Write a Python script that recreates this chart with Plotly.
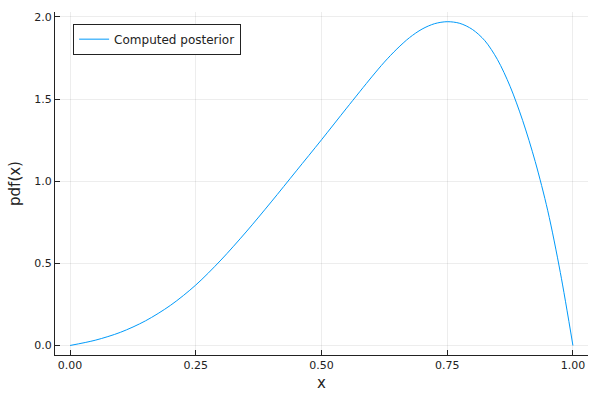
import plotly.graph_objects as go

# values
x_vals = [0.0, 0.05, 0.10, 0.15, 0.20, 0.25, 0.30, 0.35, 0.40, 0.45, 0.50,
          0.55, 0.60, 0.625, 0.65, 0.675, 0.70, 0.725, 0.75, 0.775, 0.80, 0.825,
          0.85, 0.875, 0.90, 0.925, 0.95, 0.975, 1.0]
pdf_vals = [0.0, 0.032, 0.080, 0.150, 0.245, 0.368, 0.52, 0.691, 0.874, 1.063, 1.252,
            1.445, 1.635, 1.725, 1.805, 1.874, 1.926, 1.959, 1.971, 1.961, 1.924, 1.855,
            1.74, 1.578, 1.37, 1.12, 0.82, 0.444, 0.0]
x_ticks = [0.0, 0.25, 0.5, 0.75, 1.0]
x_tick_labels = ["0.00", "0.25", "0.50", "0.75", "1.00"]
y_ticks = [0.0, 0.5, 1.0, 1.5, 2.0]
y_tick_labels = ["0.0", "0.5", "1.0", "1.5", "2.0"]
series_name = "Computed posterior"

FONT = "DejaVu Sans"

fig = go.Figure()
fig.add_trace(go.Scatter(
    x=x_vals, y=pdf_vals, mode="lines", name=series_name,
    line=dict(color="#009AFA", width=1, shape="spline", smoothing=0.9),
))

axis_common = dict(
    showline=True, linecolor="#222222", linewidth=1,
    ticks="inside", ticklen=5, tickcolor="#222222", tickwidth=1,
    showgrid=True, gridcolor="rgba(0,0,0,0.07)", gridwidth=0.7,
    zeroline=False, mirror=False, automargin=False,
    tickfont=dict(family=FONT, size=11, color="#222222"),
)

fig.update_layout(
    width=600, height=400,
    paper_bgcolor="white", plot_bgcolor="white",
    margin=dict(l=55, r=12, t=12, b=45),
    font=dict(family=FONT, color="#222222"),
    showlegend=True,
    legend=dict(
        x=0.034, y=0.966, xanchor="left", yanchor="top",
        bordercolor="#222222", borderwidth=1, bgcolor="white",
        font=dict(family=FONT, size=12, color="#222222"),
        itemwidth=30,
    ),
    xaxis=dict(
        range=[-0.03, 1.03], tickvals=x_ticks, ticktext=x_tick_labels,
        title=dict(text="x", font=dict(family=FONT, size=15), standoff=6),
        **axis_common,
    ),
    yaxis=dict(
        range=[-0.058, 2.03], tickvals=y_ticks, ticktext=y_tick_labels,
        title=dict(text="pdf(x)", font=dict(family=FONT, size=15), standoff=10),
        **axis_common,
    ),
)

fig.write_html(
    "out.html",
    config={"displayModeBar": False},
    post_script="document.body.style.margin='0px';document.body.style.padding='0px';",
)
